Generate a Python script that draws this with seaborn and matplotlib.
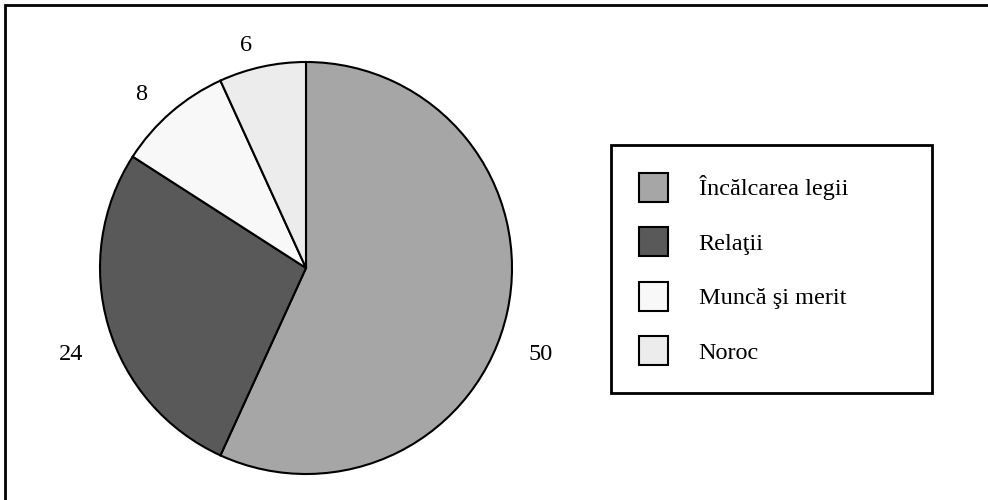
import matplotlib
matplotlib.use('Agg')
import matplotlib.pyplot as plt
import matplotlib.patches as mpatches
import seaborn as sns

categories = ['Încălcarea legii', 'Relaţii', 'Muncă şi merit', 'Noroc']
values = [50, 24, 8, 6]
colors = ['#a6a6a6', '#595959', '#f8f8f8', '#ececec']
# label anchor positions (pie units, radius 1)
label_pos = [(1.14, -0.42), (-1.14, -0.42), (-0.80, 0.84), (-0.29, 1.08)]

sns.set_theme(style='white')
plt.rcParams['font.family'] = ['Liberation Serif', 'DejaVu Serif']
plt.rcParams['text.color'] = 'black'

fig = plt.figure(figsize=(9.88, 5.0), dpi=100)
ax = fig.add_axes([(306 - 206) / 988, (500 - 268 - 206) / 500, 412 / 988, 412 / 500])

wedges, texts = ax.pie(values, labels=[str(v) for v in values], colors=colors,
                       startangle=90, counterclock=False,
                       wedgeprops=dict(edgecolor='black', linewidth=1.5),
                       textprops=dict(fontsize=17.5, color='black'))
for t, (x, y) in zip(texts, label_pos):
    t.set_position((x, y))
    t.set_ha('center')
    t.set_va('center')
ax.set_xlim(-1.0, 1.0)
ax.set_ylim(-1.0, 1.0)
ax.set_aspect('equal')

handles = [mpatches.Patch(facecolor=c, edgecolor='black', linewidth=1.5) for c in colors]
leg = fig.legend(handles, categories, loc='upper left',
                 bbox_to_anchor=(611 / 988, 1 - 145 / 500, (932 - 611) / 988, 0),
                 mode='expand', borderaxespad=0, fontsize=17.5,
                 handlelength=1.2, handleheight=1.45, handletextpad=1.25,
                 labelspacing=1.05, borderpad=1.15, fancybox=False,
                 edgecolor='black', framealpha=1)
leg.get_frame().set_linewidth(2)
for t in leg.get_texts():
    t.set_color('black')

# outer border of the figure (top and left visible)
fig.patches.append(mpatches.Rectangle((4.5 / 988, -0.05), 1.2, 1 - 4.5 / 500 + 0.05,
                                      transform=fig.transFigure, fill=False,
                                      edgecolor='black', linewidth=2))

fig.savefig('out.png', dpi=100)
